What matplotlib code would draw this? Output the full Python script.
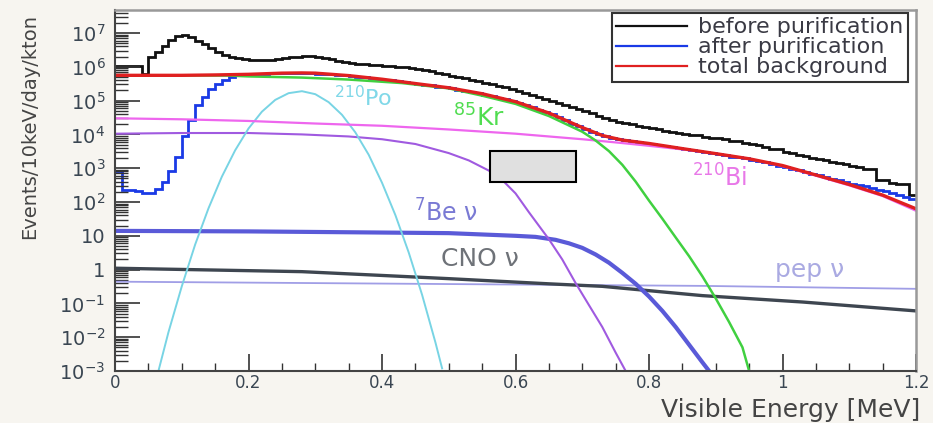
import numpy as np
import matplotlib
matplotlib.use("Agg")
import matplotlib.pyplot as plt
from matplotlib.patches import Rectangle
from matplotlib.ticker import FixedLocator, FixedFormatter, MultipleLocator, LogLocator, NullFormatter

plt.rcParams['font.family'] = 'DejaVu Sans'
plt.rcParams['mathtext.default'] = 'regular'

# histogram spectra, 10 keV bins from 0 to 1.2 MeV
bin_width = 0.01
before_purification = [
    1.05e6, 1.05e6, 1.05e6, 1.05e6, 6.0e5, 1.9e6, 2.8e6, 4.2e6, 6.3e6, 8.3e6,
    8.5e6, 7.6e6, 6.0e6, 4.8e6, 3.6e6, 2.8e6, 2.3e6, 2.0e6, 1.8e6, 1.7e6,
    1.6e6, 1.6e6, 1.55e6, 1.6e6, 1.7e6, 1.8e6, 1.95e6, 2.0e6, 2.1e6, 2.05e6,
    1.95e6, 1.8e6, 1.65e6, 1.5e6, 1.4e6, 1.3e6, 1.25e6, 1.2e6, 1.12e6, 1.1e6,
    1.07e6, 1.05e6, 1.02e6, 1.0e6, 9.3e5, 8.7e5, 7.9e5, 7.3e5, 6.6e5, 6.0e5,
    5.5e5, 5.0e5, 4.6e5, 4.2e5, 3.8e5, 3.4e5, 3.1e5, 2.75e5, 2.45e5, 2.2e5,
    1.95e5, 1.7e5, 1.5e5, 1.3e5, 1.1e5, 9.8e4, 8.5e4, 7.4e4, 6.5e4, 5.6e4,
    4.9e4, 4.3e4, 3.6e4, 3.0e4, 2.6e4, 2.35e4, 2.15e4, 2.0e4, 1.8e4, 1.65e4,
    1.5e4, 1.45e4, 1.3e4, 1.2e4, 1.12e4, 1.05e4, 9.8e3, 9.3e3, 8.5e3, 7.9e3,
    7.7e3, 7.1e3, 6.6e3, 6.3e3, 5.6e3, 5.1e3, 4.8e3, 4.3e3, 3.8e3, 3.6e3,
    3.1e3, 2.8e3, 2.5e3, 2.3e3, 2.0e3, 1.9e3, 1.75e3, 1.55e3, 1.45e3, 1.3e3,
    1.2e3, 1.1e3, 9.8e2, 9.3e2, 4.6e2, 4.4e2, 3.7e2, 3.5e2, 3.3e2, 1.6e2,
]
after_purification = [
    8.0e2, 2.2e2, 2.2e2, 2.1e2, 1.9e2, 1.8e2, 2.5e2, 4.0e2, 8.0e2, 2.2e3,
    9.0e3, 2.6e4, 7.5e4, 1.3e5, 2.2e5, 3.2e5, 4.2e5, 5.0e5, 5.9e5, 6.0e5,
    6.2e5, 6.3e5, 6.3e5, 6.5e5, 6.5e5, 6.6e5, 6.6e5, 6.6e5, 6.6e5, 6.5e5,
    6.3e5, 6.2e5, 6.0e5, 5.8e5, 5.6e5, 5.4e5, 5.1e5, 4.9e5, 4.7e5, 4.5e5,
    4.2e5, 4.0e5, 3.8e5, 3.55e5, 3.4e5, 3.2e5, 2.95e5, 2.8e5, 2.6e5, 2.5e5,
    2.3e5, 2.1e5, 1.95e5, 1.8e5, 1.65e5, 1.5e5, 1.35e5, 1.2e5, 1.1e5, 9.8e4,
    8.7e4, 7.4e4, 6.3e4, 5.4e4, 4.6e4, 3.9e4, 3.2e4, 2.6e4, 2.1e4, 1.8e4,
    1.45e4, 1.2e4, 1.0e4, 8.9e3, 7.9e3, 7.2e3, 6.8e3, 6.3e3, 6.0e3, 5.6e3,
    5.2e3, 4.9e3, 4.6e3, 4.3e3, 4.0e3, 3.7e3, 3.5e3, 3.2e3, 3.0e3, 2.8e3,
    2.6e3, 2.4e3, 2.2e3, 2.1e3, 1.95e3, 1.8e3, 1.6e3, 1.5e3, 1.35e3, 1.2e3,
    1.1e3, 9.8e2, 8.7e2, 7.8e2, 6.9e2, 6.2e2, 5.5e2, 4.9e2, 4.4e2, 4.0e2,
    3.5e2, 3.2e2, 2.9e2, 2.6e2, 2.3e2, 2.1e2, 1.9e2, 1.6e2, 1.45e2, 1.2e2,
]

# smooth model components (energy in MeV, rate in events/10keV/day/kton)
total_energy = [0.0, 0.05, 0.10, 0.15, 0.20, 0.25, 0.28, 0.30, 0.35, 0.40, 0.45, 0.50, 0.55,
                0.60, 0.65, 0.70, 0.73, 0.76, 0.80, 0.85, 0.90, 0.95, 1.00, 1.05, 1.10, 1.15, 1.20]
total_background = [5.6e5, 5.6e5, 5.6e5, 5.75e5, 6.0e5, 6.5e5, 6.6e5, 6.5e5, 5.5e5, 4.3e5, 3.2e5, 2.4e5, 1.6e5,
                    9.3e4, 4.3e4, 1.6e4, 9.3e3, 6.8e3, 5.4e3, 3.8e3, 2.7e3, 1.9e3, 1.2e3, 6.3e2, 3.3e2, 1.6e2, 63]

kr85_energy = [0.0, 0.10, 0.17, 0.20, 0.28, 0.35, 0.43, 0.50, 0.55, 0.60, 0.65, 0.70, 0.72,
               0.74, 0.76, 0.78, 0.80, 0.82, 0.84, 0.86, 0.88, 0.90, 0.92, 0.94, 0.95]
kr85 = [5.6e5, 5.6e5, 5.5e5, 5.2e5, 4.8e5, 4.2e5, 3.3e5, 2.3e5, 1.4e5, 8.0e4, 3.5e4, 1.2e4, 6.6e3,
        3.2e3, 1.26e3, 4.0e2, 1.1e2, 32, 8.9, 2.5, 0.63, 0.14, 2.8e-2, 5.0e-3, 1.0e-3]

bi210_energy = [0.0, 0.1, 0.2, 0.3, 0.4, 0.5, 0.6, 0.7, 0.75, 0.8, 0.85, 0.9, 0.95,
                1.0, 1.05, 1.1, 1.15, 1.2]
bi210 = [3.0e4, 2.8e4, 2.5e4, 2.1e4, 1.8e4, 1.4e4, 1.05e4, 7.2e3, 5.8e3, 4.6e3, 3.6e3, 2.7e3, 1.9e3,
         1.15e3, 6.0e2, 3.1e2, 1.5e2, 55]

po210_energy = [0.065, 0.08, 0.10, 0.12, 0.14, 0.16, 0.18, 0.20, 0.22, 0.24, 0.26, 0.28,
                0.30, 0.32, 0.34, 0.36, 0.38, 0.40, 0.42, 0.44, 0.46, 0.48, 0.49]
po210 = [1.0e-3, 1.4e-2, 0.32, 5.5, 65, 5.6e2, 3.4e3, 1.5e4, 4.7e4, 1.05e5, 1.66e5, 1.9e5,
         1.55e5, 9.0e4, 3.8e4, 1.15e4, 2.5e3, 3.7e2, 41, 3.2, 0.18, 7.0e-3, 1.2e-3]

c11_energy = [0.0, 0.1, 0.2, 0.28, 0.35, 0.40, 0.45, 0.50, 0.53, 0.56, 0.58, 0.60, 0.62,
              0.65, 0.67, 0.69, 0.71, 0.73, 0.75, 0.765]
c11 = [1.05e4, 1.1e4, 1.1e4, 1.0e4, 8.7e3, 7.2e3, 5.2e3, 2.8e3, 1.7e3, 8.5e2, 4.5e2, 1.8e2, 50,
       7.9, 2.0, 0.4, 8.9e-2, 2.0e-2, 3.5e-3, 1.0e-3]

be7_energy = [0.0, 0.2, 0.3, 0.5, 0.60, 0.63, 0.66, 0.68, 0.70, 0.72, 0.74, 0.76, 0.78,
              0.80, 0.82, 0.84, 0.86, 0.88, 0.89]
be7 = [14, 13.5, 13, 12, 10, 9.3, 7.6, 6.0, 4.4, 2.8, 1.6, 0.8, 0.38,
       0.16, 6.0e-2, 2.0e-2, 6.0e-3, 1.8e-3, 1.0e-3]

cno_energy = [0.0, 0.28, 0.43, 0.5, 0.65, 0.73, 0.88, 1.03, 1.2]
cno = [1.1, 0.87, 0.63, 0.54, 0.38, 0.32, 0.17, 0.11, 0.06]

pep_energy = [0.0, 0.45, 0.88, 1.2]
pep = [0.44, 0.38, 0.33, 0.27]

y_ticks = [1e-3, 1e-2, 1e-1, 1, 10, 1e2, 1e3, 1e4, 1e5, 1e6, 1e7]
y_tick_labels = ['$10^{-3}$', '$10^{-2}$', '$10^{-1}$', '1', '10', '$10^{2}$', '$10^{3}$',
                 '$10^{4}$', '$10^{5}$', '$10^{6}$', '$10^{7}$']
x_ticks = [0, 0.2, 0.4, 0.6, 0.8, 1.0, 1.2]
x_tick_labels = ['0', '0.2', '0.4', '0.6', '0.8', '1', '1.2']

edges = np.arange(len(before_purification) + 1) * bin_width

fig = plt.figure(figsize=(9.33, 4.23), dpi=100, facecolor='#f7f5f0')
ax = fig.add_axes([0.1233, 0.1229, 0.8585, 0.8535])
ax.set_facecolor('white')
ax.set_yscale('log')
ax.set_xlim(0, 1.2)
ax.set_ylim(1e-3, 4.8e7)

# components first, sums on top
ax.plot(pep_energy, pep, color='#a09ee6', lw=1.3)
ax.plot(cno_energy, cno, color='#3e4650', lw=2.4)
ax.plot(be7_energy, be7, color='#5a5ad8', lw=3.0)
ax.plot(c11_energy, c11, color='#a05ae0', lw=1.5)
ax.plot(po210_energy, po210, color='#78d4e4', lw=1.4)
ax.plot(bi210_energy, bi210, color='#ee66ee', lw=1.6)
ax.plot(kr85_energy, kr85, color='#40d040', lw=1.8)

ax.stairs(before_purification, edges, baseline=None, color='#111111', lw=2.0,
          label='before purification')
ax.stairs(after_purification, edges, baseline=None, color='#1a3ae6', lw=2.0,
          label='after purification')
ax.plot(total_energy, total_background, color='#e02020', lw=2.4, label='total background')

# curve labels
ax.text(0.372, 1.2e5, r'$^{210}$Po', color='#80d8e8', fontsize=16, ha='center', va='center')
ax.text(0.545, 3.0e4, r'$^{85}$Kr', color='#50dd50', fontsize=18, ha='center', va='center')
ax.text(0.905, 5.0e2, r'$^{210}$Bi', color='#e878e8', fontsize=17, ha='center', va='center')
ax.text(0.495, 46, r'$^{7}$Be ν', color='#7a7ad4', fontsize=17, ha='center', va='center')
ax.text(0.547, 2.0, 'CNO ν', color='#6e7278', fontsize=18, ha='center', va='center')
ax.text(1.04, 1.0, 'pep ν', color='#aaaae2', fontsize=18, ha='center', va='center')

# blank box over the plot area
ax.add_patch(Rectangle((0.562, 3.9e2), 0.129, 3.2e3 - 3.9e2, facecolor='#e0e0e0',
                       edgecolor='black', lw=1.5, zorder=10))

ax.yaxis.set_major_locator(FixedLocator(y_ticks))
ax.yaxis.set_major_formatter(FixedFormatter(y_tick_labels))
ax.yaxis.set_minor_locator(LogLocator(base=10, subs=np.arange(2, 10), numticks=30))
ax.yaxis.set_minor_formatter(NullFormatter())
ax.xaxis.set_major_locator(FixedLocator(x_ticks))
ax.xaxis.set_major_formatter(FixedFormatter(x_tick_labels))
ax.xaxis.set_minor_locator(MultipleLocator(0.05))

ax.tick_params(axis='both', which='both', direction='in', colors='#333333',
               labelcolor='#3a4652')
ax.tick_params(axis='y', which='major', length=18, width=1.2, pad=7, labelsize=14)
ax.tick_params(axis='y', which='minor', length=9, width=1.0)
ax.tick_params(axis='x', which='major', length=12, width=1.2, pad=2, labelsize=12)
ax.tick_params(axis='x', which='minor', length=6, width=1.0)

for side in ('left', 'bottom'):
    ax.spines[side].set_color('#444444')
    ax.spines[side].set_linewidth(1.5)
for side in ('top', 'right'):
    ax.spines[side].set_color('#999999')
    ax.spines[side].set_linewidth(1.8)

fig.text(0.032, 0.70, 'Events/10keV/day/kton', rotation=90, ha='center', va='center',
         fontsize=14, color='#444444')
fig.text(0.986, 6 / 423, 'Visible Energy [MeV]', ha='right', va='baseline',
         fontsize=18, color='#444444')

leg = ax.legend(loc='upper right', bbox_to_anchor=(908 / 933, 1 - 13 / 423),
                bbox_transform=fig.transFigure, fontsize=16, frameon=True, fancybox=False,
                borderaxespad=0, handlelength=3.2, handletextpad=0.5, borderpad=0.2,
                labelspacing=0.0, framealpha=1)
leg.get_frame().set_edgecolor('#333333')
leg.get_frame().set_linewidth(1.5)
for t in leg.get_texts():
    t.set_color('#3a3a44')
for h in leg.legend_handles:
    h.set_linewidth(1.6)

fig.savefig('out.png', dpi=100, facecolor=fig.get_facecolor())
